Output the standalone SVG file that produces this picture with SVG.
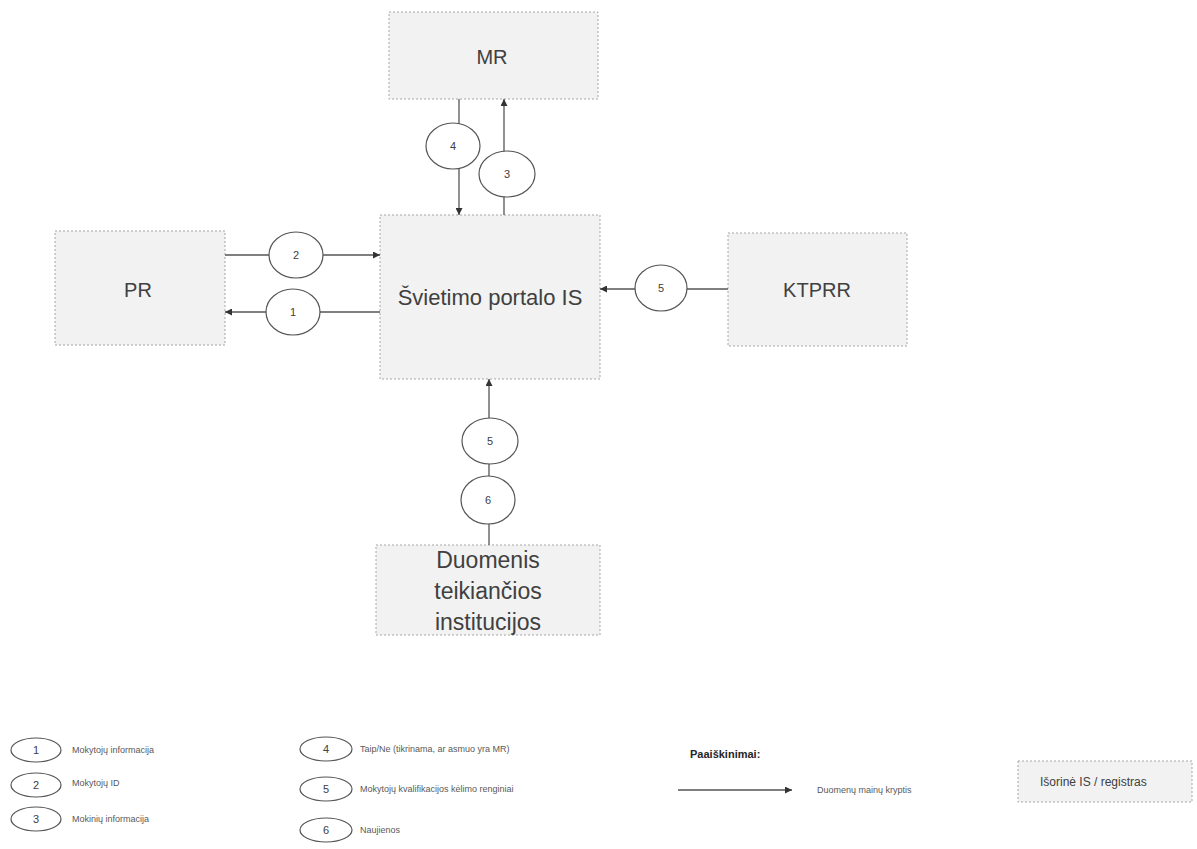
<svg xmlns="http://www.w3.org/2000/svg" width="1197" height="849" viewBox="0 0 1197 849">
<defs>
<style>
.box{fill:#f2f2f2;stroke:#a6a6a6;stroke-width:1;stroke-dasharray:2 2}
.big{font-family:"Liberation Sans",Arial,sans-serif;font-size:20px;fill:#404040;text-anchor:middle}
.ln{stroke:#555;stroke-width:1.3;fill:none}
.el{fill:#fff;stroke:#555;stroke-width:1.2}
.num{font-family:"Liberation Sans",Arial,sans-serif;font-size:11px;fill:#404040;text-anchor:middle}
.lg{font-family:"Liberation Sans",Arial,sans-serif;font-size:9px;fill:#595959}
</style>
<marker id="arr" viewBox="0 0 10 10" refX="10" refY="5" markerWidth="7" markerHeight="7" markerUnits="userSpaceOnUse" orient="auto"><path d="M0,0 L10,5 L0,10 z" fill="#333"/></marker>
</defs>
<rect width="1197" height="849" fill="#fff"/>

<g id="MR"><rect class="box" x="389" y="12" width="209" height="87"/><text class="big" x="492" y="64">MR</text></g>
<g id="SPIS"><rect class="box" x="380" y="215" width="220" height="164"/><text class="big" style="font-size:22px" x="490" y="305">Švietimo portalo IS</text></g>
<g id="PR"><rect class="box" x="55" y="231" width="170" height="114"/><text class="big" x="138" y="297">PR</text></g>
<g id="KTPRR"><rect class="box" x="728" y="233" width="179" height="113"/><text class="big" x="817" y="297">KTPRR</text></g>
<g id="DTI"><rect class="box" x="376" y="545" width="224" height="90"/>
<text class="big" style="font-size:23px" x="488" y="568">Duomenis</text>
<text class="big" style="font-size:23px" x="488" y="599">teikiančios</text>
<text class="big" style="font-size:23px" x="488" y="630">institucijos</text></g>

<g id="connectors">
<line class="ln" x1="225" y1="255" x2="380" y2="255" marker-end="url(#arr)"/>
<line class="ln" x1="380" y1="312" x2="225" y2="312" marker-end="url(#arr)"/>
<line class="ln" x1="459" y1="99" x2="459" y2="215" marker-end="url(#arr)"/>
<line class="ln" x1="504" y1="215" x2="504" y2="99" marker-end="url(#arr)"/>
<line class="ln" x1="728" y1="289" x2="600" y2="289" marker-end="url(#arr)"/>
<line class="ln" x1="489" y1="545" x2="489" y2="379" marker-end="url(#arr)"/>
<g id="lab2"><ellipse class="el" cx="296" cy="255" rx="27" ry="23"/><text class="num" x="296" y="259">2</text></g>
<g id="lab1"><ellipse class="el" cx="293" cy="312" rx="27" ry="23"/><text class="num" x="293" y="316">1</text></g>
<g id="lab4"><ellipse class="el" cx="453" cy="146" rx="27" ry="23"/><text class="num" x="453" y="150">4</text></g>
<g id="lab3"><ellipse class="el" cx="507" cy="174" rx="28" ry="23"/><text class="num" x="507" y="178">3</text></g>
<g id="lab5a"><ellipse class="el" cx="661" cy="288" rx="26" ry="23"/><text class="num" x="661" y="292">5</text></g>
<g id="lab5b"><ellipse class="el" cx="490" cy="441" rx="28" ry="23"/><text class="num" x="490" y="445">5</text></g>
<g id="lab6"><ellipse class="el" cx="488" cy="500" rx="27" ry="24"/><text class="num" x="488" y="504">6</text></g>
</g>

<g id="legend">
<ellipse class="el" cx="36" cy="750" rx="25" ry="12"/><text class="num" x="36" y="754">1</text><text class="lg" x="72" y="753">Mokytojų informacija</text>
<ellipse class="el" cx="36" cy="785" rx="25" ry="12"/><text class="num" x="36" y="789">2</text><text class="lg" x="72" y="786">Mokytojų ID</text>
<ellipse class="el" cx="36" cy="819" rx="25" ry="12"/><text class="num" x="36" y="823">3</text><text class="lg" x="72" y="822">Mokinių informacija</text>
<ellipse class="el" cx="326" cy="749" rx="26" ry="12"/><text class="num" x="326" y="753">4</text><text class="lg" x="360" y="752">Taip/Ne (tikrinama, ar asmuo yra MR)</text>
<ellipse class="el" cx="326" cy="789" rx="26" ry="12"/><text class="num" x="326" y="793">5</text><text class="lg" x="360" y="792">Mokytojų kvalifikacijos kėlimo renginiai</text>
<ellipse class="el" cx="326" cy="830" rx="26" ry="12"/><text class="num" x="326" y="834">6</text><text class="lg" x="360" y="833">Naujienos</text>
<text x="690" y="758" style="font-family:'Liberation Sans',Arial,sans-serif;font-size:11px;font-weight:bold;fill:#262626">Paaiškinimai:</text>
<line class="ln" x1="678" y1="790" x2="792" y2="790" marker-end="url(#arr)"/>
<text class="lg" x="817" y="793">Duomenų mainų kryptis</text>
<rect class="box" x="1018" y="761" width="174" height="41"/>
<text x="1040" y="786" style="font-family:'Liberation Sans',Arial,sans-serif;font-size:12px;fill:#404040">Išorinė IS / registras</text>
</g>
</svg>
